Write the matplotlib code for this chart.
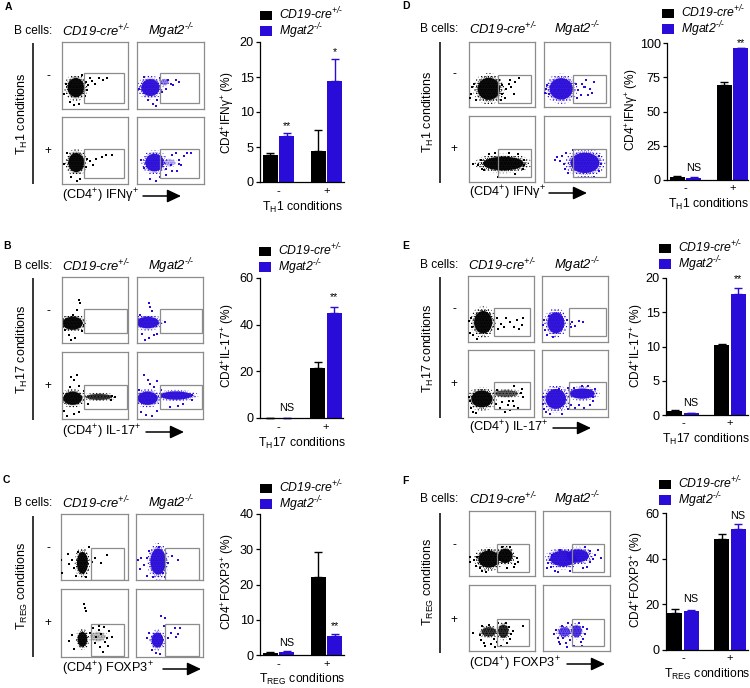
import matplotlib
matplotlib.use("Agg")
import matplotlib.pyplot as plt
from matplotlib.patches import Ellipse, Rectangle

plt.rcParams.update({
    "font.family": ["Liberation Sans", "DejaVu Sans"],
    "mathtext.fontset": "custom",
    "mathtext.rm": "Liberation Sans",
    "mathtext.it": "Liberation Sans:italic",
    "mathtext.bf": "Liberation Sans:bold",
    "mathtext.default": "regular",
    "hatch.linewidth": 0.5,
})

W, H = 750, 688
BLACK, BLUE = "#000000", "#2a0cd8"
GREY = "#8c8c8c"
FS = 8.6

GROUP_LABELS = ["-", "+"]
SERIES = [r"CD19-cre$^{+/\text{-}}$", r"Mgat2$^{\text{-}/\text{-}}$"]

# ---- bar values: mean and top of error bar for (-, +) ----
A_CD19, A_CD19_TOP = [3.8, 4.5], [4.1, 7.4]
A_MGAT, A_MGAT_TOP = [6.6, 14.5], [7.0, 17.6]
B_CD19, B_CD19_TOP = [0.0, 21.5], [0.0, 24.0]
B_MGAT, B_MGAT_TOP = [0.0, 45.0], [0.0, 47.6]
C_CD19, C_CD19_TOP = [0.7, 22.2], [0.9, 29.3]
C_MGAT, C_MGAT_TOP = [0.8, 5.5], [1.1, 6.0]
D_CD19, D_CD19_TOP = [2.2, 69.0], [2.6, 71.5]
D_MGAT, D_MGAT_TOP = [1.7, 96.0], [2.0, 96.6]
E_CD19, E_CD19_TOP = [0.6, 10.2], [0.75, 10.4]
E_MGAT, E_MGAT_TOP = [0.3, 17.7], [0.35, 18.5]
F_CD19, F_CD19_TOP = [16.2, 48.7], [17.8, 51.0]
F_MGAT, F_MGAT_TOP = [16.9, 53.0], [17.5, 55.0]

# ---- axis ticks and labels ----
A_YTICKS = [0, 5, 10, 15, 20]
B_YTICKS = [0, 20, 40, 60]
C_YTICKS = [0, 10, 20, 30, 40]
D_YTICKS = [0, 25, 50, 75, 100]
E_YTICKS = [0, 5, 10, 15, 20]
F_YTICKS = [0, 20, 40, 60]

A_YLABEL = "CD4$^{+}$IFNγ$^{+}$ (%)"
B_YLABEL = r"CD4$^{+}$IL-17$^{+}$ (%)"
C_YLABEL = "CD4$^{+}$FOXP3$^{+}$ (%)"
TH1 = "T$_{H}$1 conditions"
TH17 = "T$_{H}$17 conditions"
TREG = "T$_{REG}$ conditions"
IFN = "(CD4$^{+}$) IFNγ$^{+}$"
IL17 = "(CD4$^{+}$) IL-17$^{+}$"
FOX = "(CD4$^{+}$) FOXP3$^{+}$"

# ---- significance marks: text, group, series, value ----
A_SIG = [("**", 0, 1, 8.0), ("*", 1, 1, 18.6)]
B_SIG = [("NS", 0, 1, 4.2), ("**", 1, 1, 52.0)]
C_SIG = [("NS", 0, 1, 3.4), ("**", 1, 1, 8.1)]
D_SIG = [("NS", 0, 1, 8.8), ("**", 1, 1, 100.0)]
E_SIG = [("NS", 0, 1, 1.75), ("**", 1, 1, 19.9)]
F_SIG = [("NS", 0, 1, 22.3), ("NS", 1, 1, 58.7)]

# ---- flow plots, order: (-,CD19) (-,Mgat2) (+,CD19) (+,Mgat2) ----
A_PCT = ["3.9%", "7.2%", "2.6%", "19%"]
B_PCT = ["0.07%", "0.15%", "25%", "50%"]
C_PCT = ["0.4%", "0.3%", "17%", "4.6%"]
D_PCT = ["2.7%", "1.9%", "65%", "97%"]
E_PCT = ["0.9%", "0.4%", "11%", "19%"]
F_PCT = ["15%", "15%", "50%", "50%"]

# cloud cores: centre x, centre y, width, height, density (percent of plot box)
A_CLOUDS = [[(21, 32, 23, 26, 1)],
            [(20, 32, 25, 23, 1), (41, 40, 11, 8, .5)],
            [(21.5, 32, 22, 26, 1)],
            [(26, 32, 25, 24, 1), (48, 32, 16, 9, .3)]]
B_CLOUDS = [[(16, 30, 28, 18, 1)],
            [(16, 31, 31, 16, 1)],
            [(16, 31, 26, 18, 1), (56, 33, 36, 8, .8)],
            [(16, 31, 28, 18, 1), (59, 35, 44, 11, 1)]]
C_CLOUDS = [[(32, 26, 15, 30, 1)],
            [(33, 28, 21, 36, 1)],
            [(32, 26, 13, 20, 1), (55, 30, 20, 12, .25)],
            [(32, 25, 16, 20, 1)]]
D_CLOUDS = [[(30, 28, 31, 31, 1)],
            [(26, 28, 32, 30, 1)],
            [(52, 28, 56, 19, 1)],
            [(62, 29, 40, 28, 1)]]
E_CLOUDS = [[(23, 30, 25, 31, 1)],
            [(21, 29, 23, 29, 1)],
            [(21, 27, 29, 23, 1), (58, 35, 32, 9, .65)],
            [(21, 27, 28, 27, 1), (61, 35, 34, 14, 1)]]
F_CLOUDS = [[(30, 26, 29, 24, 1), (55, 31, 20, 20, 1)],
            [(30, 27, 35, 22, 1), (52, 31, 30, 18, 1)],
            [(30, 29, 20, 13, .8), (52, 30, 14, 18, .85)],
            [(32, 29, 16, 13, .75), (50, 30, 14, 16, .85)]]

# stray events (x, y in percent of plot box)
A_DOTS = [[(36, 40), (40, 36), (45, 42), (50, 38), (56, 46), (62, 43), (68, 47), (38, 28), (42, 46), (35, 20), (12, 10), (26, 8), (30, 50), (3, 22), (6, 38), (18, 6)],
          [(43, 30), (47, 44), (50, 38), (54, 36), (58, 44), (62, 40), (34, 46), (24, 8), (16, 14), (3, 30), (10, 48), (30, 14), (28, 5), (38, 26)],
          [(38, 38), (42, 34), (47, 28), (52, 37), (60, 40), (66, 44), (76, 44), (36, 26), (14, 10), (28, 8), (3, 30), (8, 46), (22, 5)],
          [(52, 44), (58, 46), (62, 36), (66, 28), (70, 42), (74, 46), (80, 46), (60, 20), (52, 20), (44, 22), (6, 36), (10, 24), (20, 8), (34, 10), (28, 5), (44, 14), (62, 30), (50, 28)]]
B_DOTS = [[(26, 65), (28, 60), (14, 4), (20, 8), (30, 18), (4, 20), (22, 50), (33, 28), (10, 12), (16, 42)],
          [(18, 60), (20, 55), (12, 4), (18, 8), (8, 14), (4, 42), (26, 12), (42, 32), (22, 48), (30, 14)],
          [(14, 62), (18, 58), (22, 66), (8, 4), (18, 8), (26, 10), (76, 35), (74, 28), (80, 33), (3, 12), (26, 50), (34, 42), (40, 22), (12, 48)],
          [(10, 65), (16, 58), (20, 52), (26, 48), (14, 6), (22, 4), (30, 12), (84, 36), (6, 10), (36, 44), (3, 44), (50, 18), (62, 20), (70, 22), (84, 28), (30, 56)]]
C_DOTS = [[(12, 25), (16, 30), (20, 18), (10, 40), (0, 30), (50, 34), (68, 38), (60, 26), (22, 6), (38, 4), (42, 50), (26, 42), (1, 10), (46, 28)],
          [(3, 30), (8, 34), (12, 22), (16, 6), (20, 44), (34, 50), (48, 26), (62, 30), (54, 36), (26, 4), (40, 10), (6, 16), (16, 34), (44, 4)],
          [(34, 78), (36, 72), (38, 68), (12, 24), (16, 32), (48, 42), (56, 40), (64, 44), (72, 38), (66, 22), (58, 14), (68, 28), (62, 8), (56, 46), (44, 36), (50, 20), (76, 30), (20, 12), (52, 30), (60, 34), (70, 16)],
          [(38, 60), (42, 46), (44, 58), (20, 36), (16, 28), (52, 36), (58, 42), (62, 34), (66, 42), (60, 30), (48, 28), (30, 6), (24, 10), (36, 4)]]
D_DOTS = [[(3, 20), (5, 30), (8, 36), (2, 14), (10, 10), (50, 34), (56, 28), (60, 36), (64, 30), (70, 38), (76, 44), (68, 20), (54, 14), (50, 20), (62, 42), (46, 42), (48, 10)],
          [(3, 28), (5, 34), (7, 20), (2, 22), (48, 36), (52, 26), (58, 36), (60, 30), (64, 42), (70, 28), (76, 38), (72, 22), (66, 18), (56, 18), (50, 14), (62, 30)],
          [(6, 27), (14, 26), (18, 34), (20, 20), (22, 18), (30, 42), (40, 44), (60, 44), (74, 42), (84, 34), (82, 20), (70, 12), (44, 8), (84, 26)],
          [(16, 34), (20, 38), (24, 32), (28, 40), (30, 28), (32, 20), (34, 44), (36, 14), (86, 28), (84, 40), (84, 16), (44, 48), (76, 8)]]
E_DOTS = [[(3, 14), (2, 32), (6, 22), (8, 10), (4, 36), (14, 5), (44, 36), (50, 28), (58, 36), (64, 30), (70, 22), (74, 34), (82, 26), (78, 20), (84, 36), (46, 20), (54, 22)],
          [(3, 34), (2, 26), (4, 18), (8, 10), (10, 40), (16, 8), (38, 34), (42, 28), (46, 30), (50, 24), (56, 32), (62, 30), (44, 22)],
          [(3, 24), (2, 30), (4, 14), (8, 8), (12, 6), (42, 20), (48, 14), (52, 22), (60, 18), (64, 10), (70, 16), (76, 14), (80, 36), (82, 42), (84, 30), (44, 40), (70, 46), (56, 8), (62, 24), (68, 24)],
          [(2, 30), (2, 20), (3, 12), (6, 8), (12, 4), (30, 5), (40, 12), (44, 18), (50, 14), (56, 18), (64, 14), (72, 18), (78, 30), (80, 42), (40, 44), (48, 44), (60, 46), (70, 46), (26, 42), (78, 24)]]
F_DOTS = [[(1, 30), (1, 22), (8, 24), (10, 16), (12, 30), (16, 12), (20, 8), (70, 18), (72, 28), (68, 14), (74, 22), (30, 40), (50, 44), (62, 44), (26, 6), (58, 12)],
          [(6, 12), (8, 20), (10, 24), (12, 14), (14, 32), (18, 8), (22, 6), (70, 22), (74, 26), (78, 32), (82, 40), (66, 14), (70, 38), (86, 28), (60, 12), (40, 8), (26, 40), (62, 44)],
          [(6, 28), (16, 24), (18, 16), (20, 38), (22, 12), (24, 8), (34, 10), (38, 18), (42, 14), (44, 42), (56, 42), (60, 36), (64, 26), (62, 18), (58, 12), (48, 8), (66, 30), (82, 38), (40, 6), (30, 40)],
          [(16, 26), (20, 32), (22, 20), (24, 14), (26, 10), (28, 38), (34, 12), (36, 6), (40, 16), (44, 40), (54, 42), (60, 36), (62, 26), (60, 18), (56, 14), (46, 8), (66, 34), (38, 42), (30, 20), (58, 8)]]

# ---- layout in pixels ----
LAYOUT = {
    "A": dict(letter=(5, 7), cells=(14, 31), titles=(96, 171, 31), col=((62, 128), (137, 204)), row=((42, 109), (117, 184)),
              gx=((84, 124), (160, 199)), gy=((73, 103), (149, 178)), pct=((104, 60), (179, 60), (103, 135), (179, 135)),
              vline=(33, 43, 184), rlabel=(22, 114), sign=(48, 76, 151), flab=(62, 196), arrow=(143, 181),
              ax=(260, 344, 42, 182), centers=(278.5, 326.5), xl=(303, 207), tick_y=192, yl=(228, 113),
              leg=(260, 36), data=(A_CD19, A_CD19_TOP, A_MGAT, A_MGAT_TOP, A_YTICKS, A_YLABEL, TH1, A_SIG, A_PCT, A_CLOUDS, A_DOTS, TH1, IFN)),
    "B": dict(letter=(3, 246), cells=(14, 266), titles=(96, 171, 266), col=((62, 128), (137, 203)), row=((277, 343), (352, 419)),
              gx=((84, 127), (160, 202)), gy=((309, 333), (385, 409)), pct=((105, 297), (180, 297), (105, 372), (178, 372)),
              vline=(33, 278, 420), rlabel=(22, 349), sign=(48, 311, 386), flab=(62, 432), arrow=(146, 184),
              ax=(260, 343, 278, 418), centers=(278.5, 326), xl=(302, 443), tick_y=428, yl=(228, 346),
              leg=(259, 272), data=(B_CD19, B_CD19_TOP, B_MGAT, B_MGAT_TOP, B_YTICKS, B_YLABEL, TH17, B_SIG, B_PCT, B_CLOUDS, B_DOTS, TH17, IL17)),
    "C": dict(letter=(3, 480), cells=(14, 503), titles=(96, 171, 503), col=((61, 128), (136, 203)), row=((514, 580), (589, 657)),
              gx=((91, 124), (165, 199)), gy=((548, 580), (624, 656)), pct=((107, 533), (182, 533), (108, 609), (182, 609)),
              vline=(33, 516, 657), rlabel=(22, 586), sign=(48, 548, 623), flab=(62, 669), arrow=(163, 201),
              ax=(260, 344, 514, 655), centers=(278.5, 326.5), xl=(302, 679), tick_y=665, yl=(228, 582),
              leg=(260, 509), data=(C_CD19, C_CD19_TOP, C_MGAT, C_MGAT_TOP, C_YTICKS, C_YLABEL, TREG, C_SIG, C_PCT, C_CLOUDS, C_DOTS, TREG, FOX)),
    "D": dict(letter=(402, 6), cells=(420, 29), titles=(503, 577, 29), col=((469, 535), (544, 610)), row=((42, 107), (116, 182)),
              gx=((498, 531), (573, 606)), gy=((75, 103), (149, 177)), pct=((514, 62), (589, 62), (514, 136), (589, 136)),
              vline=(440, 42, 183), rlabel=(428, 112), sign=(454, 74, 149), flab=(469, 193), arrow=(549, 587),
              ax=(667, 748, 43, 180), centers=(685.5, 732.5), xl=(709, 204), tick_y=189, yl=(632, 110),
              leg=(662, 34), data=(D_CD19, D_CD19_TOP, D_MGAT, D_MGAT_TOP, D_YTICKS, A_YLABEL, TH1, D_SIG, D_PCT, D_CLOUDS, D_DOTS, TH1, IFN)),
    "E": dict(letter=(402, 246), cells=(420, 265), titles=(502, 577, 265), col=((468, 534), (542, 608)), row=((276, 342), (350, 417)),
              gx=((494, 530), (569, 606)), gy=((308, 336), (382, 409)), pct=((511, 295), (586, 295), (512, 370), (586, 370)),
              vline=(440, 277, 418), rlabel=(428, 348), sign=(454, 309, 384), flab=(469, 428), arrow=(553, 591),
              ax=(666, 748, 278, 415), centers=(683, 730), xl=(706, 439), tick_y=424, yl=(637, 346),
              leg=(659, 269), data=(E_CD19, E_CD19_TOP, E_MGAT, E_MGAT_TOP, E_YTICKS, B_YLABEL, TH17, E_SIG, E_PCT, E_CLOUDS, E_DOTS, TH17, IL17)),
    "F": dict(letter=(402, 481), cells=(420, 499), titles=(503, 577, 499), col=((469, 535), (543, 610)), row=((511, 576), (585, 651)),
              gx=((497, 529), (572, 604)), gy=((544, 572), (619, 646)), pct=((512, 533), (587, 533), (512, 608), (587, 608)),
              vline=(440, 513, 653), rlabel=(428, 582), sign=(454, 545, 620), flab=(469, 664), arrow=(567, 605),
              ax=(666, 748, 513, 650), centers=(683, 730), xl=(707, 674), tick_y=659, yl=(637, 580),
              leg=(659, 505), data=(F_CD19, F_CD19_TOP, F_MGAT, F_MGAT_TOP, F_YTICKS, C_YLABEL, TREG, F_SIG, F_PCT, F_CLOUDS, F_DOTS, TREG, FOX)),
}


def px_axes(fig, x0, x1, ytop, ybot):
    return fig.add_axes([x0 / W, 1 - ybot / H, (x1 - x0) / W, (ybot - ytop) / H])


fig = plt.figure(figsize=(W / 100, H / 100), dpi=100, facecolor="white")
bg = fig.add_axes([0, 0, 1, 1])
bg.set_xlim(0, W)
bg.set_ylim(H, 0)
bg.axis("off")


def draw_flow(L, r, c, color, pct, clouds, dots):
    x0, x1 = L["col"][c]
    y0, y1 = L["row"][r]
    ax = px_axes(fig, x0, x1, y0, y1)
    ax.set_xlim(0, 100)
    ax.set_ylim(0, 100)
    ax.set_xticks([])
    ax.set_yticks([])
    for s in ax.spines.values():
        s.set_color(GREY)
        s.set_linewidth(0.9)
    gx0, gx1 = L["gx"][c]
    gy0, gy1 = L["gy"][r]
    ax.add_patch(Rectangle(((gx0 - x0) / (x1 - x0) * 100, (y1 - gy1) / (y1 - y0) * 100),
                           (gx1 - gx0) / (x1 - x0) * 100, (gy1 - gy0) / (y1 - y0) * 100,
                           fill=False, ec=GREY, lw=0.9, zorder=4))
    for cx, cy, w, h, d in clouds:
        for scale, hatch in ((1.55, "....."), (1.3, "........")):
            ax.add_patch(Ellipse((cx, cy), w * scale, h * scale, fc="none", ec=color, lw=0,
                                 hatch=hatch, alpha=d, zorder=2))
        ax.add_patch(Ellipse((cx, cy), w * 1.1, h * 1.1, fc=color, ec="none", alpha=.95 * d, zorder=2))
    xs, ys = zip(*dots)
    ax.scatter(xs, ys, s=0.7, c=color, marker="s", linewidths=0, zorder=3)
    px, py = L["pct"][r * 2 + c]
    bg.text(px, py, pct, fontsize=FS, ha="center", va="center")


def draw_panel(name, L):
    cd, cd_top, mg, mg_top, yt, ylab, xlab, sig, pct, clouds, dots, rlab, flab = L["data"]
    bg.text(*L["letter"], name, fontsize=7.5, fontweight="bold", ha="left", va="center")
    bg.text(*L["cells"], "B cells:", fontsize=FS, ha="left", va="center")
    t1, t2, ty = L["titles"]
    bg.text(t1, ty, SERIES[0], fontsize=9.4, style="italic", ha="center", va="center")
    bg.text(t2, ty, SERIES[1], fontsize=9.4, style="italic", ha="center", va="center")
    vx, vy0, vy1 = L["vline"]
    bg.plot([vx, vx], [vy0, vy1], color="black", lw=1.1, solid_capstyle="butt")
    bg.text(*L["rlabel"], rlab, fontsize=FS + .4, rotation=90, ha="center", va="center")
    sx, s0, s1 = L["sign"]
    bg.text(sx, s0, "-", fontsize=FS, ha="center", va="center")
    bg.text(sx, s1, "+", fontsize=FS, ha="center", va="center")
    bg.text(*L["flab"], flab, fontsize=9.2, ha="left", va="center")
    a0, a1 = L["arrow"]
    fy = L["flab"][1]
    bg.annotate("", xy=(a1, fy), xytext=(a0, fy),
                arrowprops=dict(arrowstyle="-|>,head_length=0.7,head_width=0.33", color="black", lw=1.1,
                                shrinkA=0, shrinkB=0, mutation_scale=12))
    for r in range(2):
        for c in range(2):
            i = r * 2 + c
            draw_flow(L, r, c, BLUE if c else BLACK, pct[i], clouds[i], dots[i])

    x0, x1, ytop, ybot = L["ax"]
    ax = px_axes(fig, x0, x1, ytop, ybot)
    ax.patch.set_alpha(0)
    c0, c1 = L["centers"]
    unit = c1 - c0
    ax.set_xlim((x0 - c0) / unit, (x1 - c0) / unit)
    ax.set_ylim(yt[0], yt[-1])
    bw = 15 / unit
    off = 0.5 * 16.2 / unit
    groups = [0, 1]
    for k, (vals, tops, col, lab) in enumerate(((cd, cd_top, BLACK, SERIES[0]), (mg, mg_top, BLUE, SERIES[1]))):
        pos = [g + (2 * k - 1) * off for g in groups]
        ax.bar(pos, vals, bw, color=col, label=lab, zorder=2)
        ax.errorbar(pos, vals, yerr=[[0, 0], [t - v for t, v in zip(tops, vals)]], fmt="none",
                    ecolor=col, elinewidth=1.0, capsize=3.2, capthick=1.0, zorder=1, clip_on=False)
    for txt, g, s, v in sig:
        xp = g + (2 * s - 1) * off
        ax.text(xp, v, txt, fontsize=7.8, ha="center", va="center", clip_on=False)
    ax.spines["top"].set_visible(False)
    ax.spines["right"].set_visible(False)
    ax.spines["left"].set_linewidth(0.9)
    ax.spines["bottom"].set_linewidth(0.9)
    ax.set_yticks(yt)
    ax.tick_params(axis="y", labelsize=FS + .5, length=3, width=0.9, pad=1.5)
    ax.set_xticks(groups)
    ax.set_xticklabels(GROUP_LABELS)
    ax.tick_params(axis="x", labelsize=FS - .5, length=0, pad=(L["tick_y"] - ybot - 6) * .72)
    ax.set_xlabel(xlab, fontsize=FS + .2, ha="center", va="center")
    ax.xaxis.set_label_coords(L["xl"][0] / W, 1 - L["xl"][1] / H, transform=fig.transFigure)
    ax.set_ylabel(ylab, fontsize=FS, ha="center", va="center")
    ax.yaxis.set_label_coords(L["yl"][0] / W, 1 - L["yl"][1] / H, transform=fig.transFigure)
    lx, ly = L["leg"]
    leg = ax.legend(loc="lower left", bbox_to_anchor=(lx / W, 1 - (ly + 5) / H), bbox_transform=fig.transFigure,
                    frameon=False, fontsize=8.8, borderpad=0, borderaxespad=0, handlelength=0.98,
                    handleheight=0.82, handletextpad=0.55, labelspacing=-0.1)
    for t in leg.get_texts():
        t.set_style("italic")


for name, L in LAYOUT.items():
    draw_panel(name, L)

fig.savefig("out.png", dpi=100)
